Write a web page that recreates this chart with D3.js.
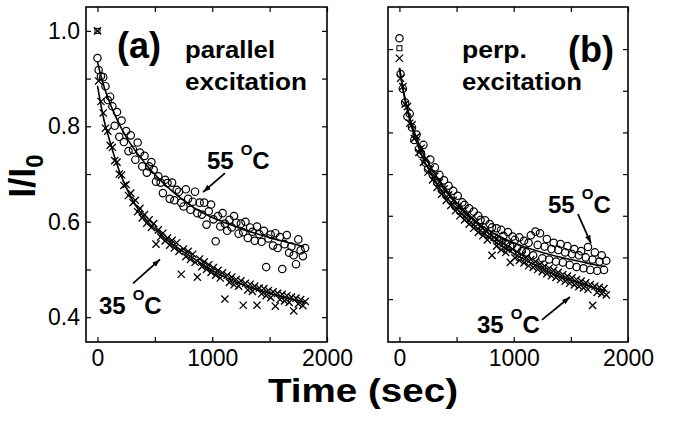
<!DOCTYPE html>
<html>
<head>
<meta charset="utf-8">
<script src="https://cdn.jsdelivr.net/npm/d3@7"></script>
<style>
  body { margin: 0; background: #fff; }
  text { font-family: "Liberation Sans", Arial, sans-serif; fill: #000; }
</style>
</head>
<body>
<script>
// time points (sec), shared by all four data series
const times = [0,
  10,30,50,70,90,110,130,150,170,190,
  210,230,250,270,290,310,330,350,370,390,
  410,430,450,470,490,510,530,550,570,590,
  610,630,650,670,690,710,730,750,770,790,
  810,830,850,870,890,910,930,950,970,990,
  1010,1030,1050,1070,1090,1110,1130,1150,1170,1190,
  1210,1230,1250,1270,1290,1310,1330,1350,1370,1390,
  1410,1430,1450,1470,1490,1510,1530,1550,1570,1590,
  1610,1630,1650,1670,1690,1710,1730,1750,1770,1790,
  1810];

// (a) parallel excitation, 55 C (circles)
const a55 = [0.943,
  0.918,0.905,0.903,0.884,0.855,0.862,0.842,0.801,0.830,0.778,
  0.812,0.767,0.790,0.748,0.781,0.751,0.730,0.766,0.745,0.716,
  0.738,0.703,0.716,0.725,0.709,0.684,0.695,0.682,0.660,0.688,
  0.681,0.648,0.682,0.645,0.667,0.663,0.640,0.632,0.668,0.648,
  0.625,0.642,0.663,0.618,0.640,0.615,0.640,0.594,0.622,0.636,
  0.605,0.559,0.612,0.590,0.618,0.596,0.581,0.604,0.588,0.612,
  0.598,0.575,0.596,0.578,0.600,0.566,0.588,0.579,0.560,0.590,
  0.574,0.558,0.581,0.505,0.565,0.573,0.550,0.576,0.545,0.568,
  0.501,0.553,0.572,0.535,0.548,0.530,0.511,0.563,0.540,0.528,
  0.545];

// (a) parallel excitation, 35 C (crosses)
const a35 = [1.000,
  0.895,0.852,0.828,0.796,0.790,0.760,0.756,0.728,0.725,0.700,
  0.698,0.676,0.678,0.655,0.660,0.640,0.645,0.621,0.628,0.608,
  0.615,0.597,0.604,0.588,0.596,0.553,0.583,0.568,0.576,0.560,
  0.566,0.551,0.561,0.545,0.556,0.538,0.490,0.543,0.527,0.538,
  0.521,0.532,0.515,0.484,0.522,0.506,0.516,0.500,0.510,0.494,
  0.504,0.488,0.498,0.482,0.493,0.438,0.488,0.473,0.484,0.468,
  0.479,0.465,0.476,0.425,0.471,0.457,0.469,0.454,0.465,0.425,
  0.461,0.449,0.460,0.445,0.456,0.441,0.453,0.423,0.450,0.437,
  0.448,0.434,0.445,0.431,0.442,0.413,0.440,0.428,0.437,0.424,
  0.433];

// (b) perp. excitation, 55 C (circles)
const b55 = [1.026,
  0.940,0.905,0.872,0.838,0.845,0.812,0.782,0.795,0.760,0.748,
  0.770,0.727,0.712,0.735,0.700,0.716,0.680,0.698,0.662,0.685,
  0.650,0.672,0.636,0.660,0.622,0.648,0.611,0.632,0.626,0.595,
  0.618,0.586,0.610,0.577,0.600,0.590,0.565,0.589,0.556,0.580,
  0.572,0.548,0.570,0.540,0.566,0.552,0.532,0.561,0.527,0.550,
  0.542,0.522,0.548,0.515,0.540,0.512,0.535,0.553,0.505,0.562,
  0.530,0.558,0.498,0.526,0.544,0.495,0.520,0.535,0.490,0.518,
  0.532,0.488,0.512,0.527,0.482,0.508,0.520,0.477,0.505,0.515,
  0.474,0.500,0.525,0.470,0.495,0.512,0.468,0.490,0.505,0.470,
  0.492];

// (b) perp. excitation, 35 C (crosses)
const b35 = [0.978,
  0.930,0.910,0.868,0.862,0.822,0.818,0.785,0.790,0.752,0.762,
  0.728,0.736,0.705,0.712,0.686,0.695,0.668,0.680,0.652,0.664,
  0.637,0.650,0.625,0.637,0.612,0.622,0.600,0.613,0.590,0.602,
  0.580,0.594,0.570,0.584,0.560,0.574,0.552,0.565,0.542,0.556,
  0.505,0.548,0.527,0.540,0.518,0.533,0.512,0.526,0.488,0.520,
  0.499,0.513,0.493,0.507,0.487,0.500,0.480,0.495,0.476,0.490,
  0.471,0.484,0.466,0.479,0.461,0.474,0.456,0.469,0.452,0.464,
  0.447,0.459,0.443,0.455,0.438,0.451,0.434,0.447,0.430,0.443,
  0.427,0.439,0.423,0.435,0.385,0.431,0.416,0.428,0.413,0.425,
  0.410];

// normalisation point at t = 0 (small square)
const normA = 1.000, normB = 1.002;

// fitted curves
const fitTimes = [0,20,40,60,80,100,150,200,250,300,350,400,450,500,600,700,800,900,1000,1100,1200,1300,1400,1500,1600,1700,1800];
const fitA55 = [0.935,0.915,0.897,0.881,0.867,0.854,0.825,0.800,0.778,0.759,0.742,0.727,0.712,0.699,0.675,0.654,0.636,0.621,0.609,0.599,0.590,0.581,0.574,0.567,0.560,0.554,0.548];
const fitA35 = [0.885,0.858,0.832,0.810,0.792,0.775,0.735,0.700,0.672,0.648,0.628,0.611,0.597,0.585,0.563,0.545,0.529,0.513,0.498,0.485,0.474,0.465,0.457,0.450,0.443,0.437,0.431];
const fitB55 = [0.955,0.922,0.893,0.868,0.846,0.826,0.786,0.754,0.728,0.705,0.684,0.665,0.648,0.632,0.604,0.580,0.562,0.547,0.535,0.525,0.516,0.508,0.501,0.495,0.489,0.483,0.478];
const fitB35 = [0.955,0.920,0.890,0.864,0.841,0.820,0.777,0.742,0.714,0.690,0.668,0.649,0.632,0.617,0.590,0.566,0.545,0.526,0.509,0.494,0.480,0.467,0.455,0.445,0.436,0.427,0.419];

const xTicks = [0, 500, 1000, 1500, 2000];
const yTicks = [0.4, 0.5, 0.6, 0.7, 0.8, 0.9, 1.0];

const W = 674, H = 422, yTop = 7, yBottom = 342;

const svg = d3.select('body').append('svg')
    .attr('width', W)
    .attr('height', H);

svg.append('defs').append('marker')
    .attr('id', 'head')
    .attr('viewBox', '0 0 10 10')
    .attr('refX', 10).attr('refY', 5)
    .attr('markerWidth', 8).attr('markerHeight', 8)
    .attr('markerUnits', 'userSpaceOnUse')
    .attr('orient', 'auto')
    .append('path').attr('d', 'M0,1.5L10,5L0,8.5Z').attr('fill', '#000');

const panels = [
    { left: 86, right: 327, yDomain: [0.348, 1.05], c: a55, x: a35, norm: normA,
      fit55: fitA55, fit35: fitA35, yLabels: true,
      tag: { text: '(a)', t: 170, v: 0.943 },
      title: [{ text: 'parallel', t: 763, v: 0.943, len: 90 }, { text: 'excitation', t: 763, v: 0.876, len: 122 }],
      temps: [{ num: '55', t: 954, v: 0.710, arrow: [1111, 0.702, 920, 0.662] },
              { num: '35', t: 13, v: 0.406, arrow: [310, 0.471, 545, 0.521] }] },
    { left: 388, right: 628, yDomain: [0.297, 1.101], c: b55, x: b35, norm: normB,
      fit55: fitB55, fit35: fitB35, yLabels: false,
      tag: { text: '(b)', t: 1475, v: 0.969 },
      title: [{ text: 'perp.', t: 547, v: 0.978, len: 65 }, { text: 'excitation', t: 547, v: 0.902, len: 120 }],
      temps: [{ num: '55', t: 1300, v: 0.606, arrow: [1562, 0.604, 1676, 0.534] },
              { num: '35', t: 679, v: 0.318, arrow: [1247, 0.350, 1492, 0.405] }] }
];

panels.forEach(p => {
    const x = d3.scaleLinear().domain([-100, 2000]).range([p.left, p.right]);
    const y = d3.scaleLinear().domain(p.yDomain).range([yBottom, yTop]);
    const g = svg.append('g');

    // axes with inward ticks
    const fmtY = d => (Math.round(d * 10) % 2 === 0 && p.yLabels) ? d3.format('.1f')(d) : '';
    const fmtX = d => (d % 1000 === 0) ? String(d) : '';

    const axes = [
        g.append('g').attr('transform', `translate(0,${yBottom})`)
            .call(d3.axisBottom(x).tickValues(xTicks).tickSize(-5).tickPadding(8).tickFormat(fmtX)),
        g.append('g').attr('transform', `translate(0,${yTop})`)
            .call(d3.axisTop(x).tickValues(xTicks).tickSize(-5).tickFormat('')),
        g.append('g').attr('transform', `translate(${p.left},0)`)
            .call(d3.axisLeft(y).tickValues(yTicks).tickSize(-5).tickPadding(6).tickFormat(fmtY)),
        g.append('g').attr('transform', `translate(${p.right},0)`)
            .call(d3.axisRight(y).tickValues(yTicks).tickSize(-5).tickFormat(''))
    ];
    axes.forEach(a => {
        a.select('.domain').remove();
        a.selectAll('line').attr('stroke', '#000').attr('stroke-width', 1.2);
        a.selectAll('text').attr('font-size', 23).attr('fill', '#000')
            .style('font-family', '"Liberation Sans", Arial, sans-serif');
    });

    g.append('rect')
        .attr('x', p.left).attr('y', yTop)
        .attr('width', p.right - p.left).attr('height', yBottom - yTop)
        .attr('fill', 'none').attr('stroke', '#000').attr('stroke-width', 1.6);

    // open circles
    g.append('g').selectAll('circle')
        .data(times.map((t, i) => [t, p.c[i]]))
        .join('circle')
        .attr('cx', d => x(d[0])).attr('cy', d => y(d[1])).attr('r', 3.7)
        .attr('fill', 'none').attr('stroke', '#000').attr('stroke-width', 1.2);

    // crosses
    g.append('g').selectAll('path')
        .data(times.map((t, i) => [t, p.x[i]]))
        .join('path')
        .attr('transform', d => `translate(${x(d[0])},${y(d[1])})`)
        .attr('d', 'M-3.6,-3.6L3.6,3.6M-3.6,3.6L3.6,-3.6')
        .attr('stroke', '#000').attr('stroke-width', 1.3);

    // normalisation square
    g.append('rect')
        .attr('x', x(0) - 2.5).attr('y', y(p.norm) - 2.5)
        .attr('width', 5).attr('height', 5)
        .attr('fill', 'none').attr('stroke', '#000').attr('stroke-width', 1);

    // fitted curves
    const line = d3.line().x(d => x(d[0])).y(d => y(d[1])).curve(d3.curveMonotoneX);
    [p.fit55, p.fit35].forEach(f => {
        g.append('path')
            .datum(fitTimes.map((t, i) => [t, f[i]]))
            .attr('d', line)
            .attr('fill', 'none').attr('stroke', '#000').attr('stroke-width', 1.6);
    });

    // panel tag and title
    g.append('text').attr('x', x(p.tag.t)).attr('y', y(p.tag.v))
        .attr('font-size', 36).attr('font-weight', 'bold').text(p.tag.text);
    p.title.forEach(tt => {
        g.append('text').attr('x', x(tt.t)).attr('y', y(tt.v))
            .attr('font-size', 24).attr('font-weight', 'bold')
            .attr('textLength', tt.len).attr('lengthAdjust', 'spacingAndGlyphs')
            .text(tt.text);
    });

    // temperature labels with arrows
    p.temps.forEach(tp => {
        const tx = g.append('text').attr('x', x(tp.t)).attr('y', y(tp.v))
            .attr('font-size', 24).attr('font-weight', 'bold');
        tx.append('tspan').text(tp.num);
        tx.append('tspan').attr('dx', 7).attr('dy', -14).attr('font-size', 15).text('O');
        tx.append('tspan').attr('dy', 14).text('C');
        const a = tp.arrow;
        g.append('line')
            .attr('x1', x(a[0])).attr('y1', y(a[1]))
            .attr('x2', x(a[2])).attr('y2', y(a[3]))
            .attr('stroke', '#000').attr('stroke-width', 1.8)
            .attr('marker-end', 'url(#head)');
    });
});

// shared axis titles
svg.append('text')
    .attr('x', 363).attr('y', 402)
    .attr('text-anchor', 'middle')
    .attr('font-size', 33).attr('font-weight', 'bold')
    .attr('textLength', 190).attr('lengthAdjust', 'spacingAndGlyphs')
    .text('Time (sec)');

const yt = svg.append('text')
    .attr('transform', 'translate(35,176) rotate(-90)')
    .attr('text-anchor', 'middle')
    .attr('font-size', 36).attr('font-weight', 'bold');
yt.append('tspan').text('I/I');
yt.append('tspan').attr('dy', 8).attr('font-size', 24).text('0');
</script>
</body>
</html>
